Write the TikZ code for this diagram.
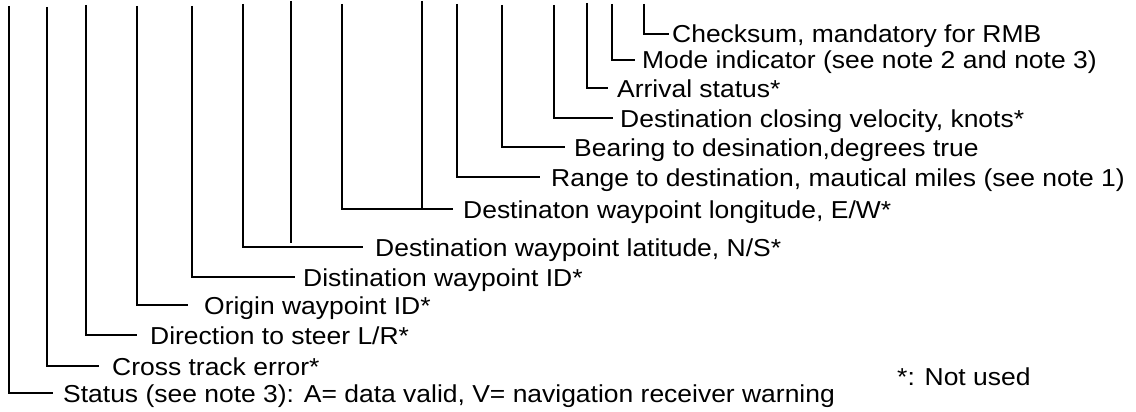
\documentclass[tikz,border=0pt]{standalone}
\usepackage{fontspec}
\setmainfont[FakeStretch=1.08]{Liberation Sans}
\begin{document}
\begin{tikzpicture}[x=1pt,y=-1pt,
  lbl/.style={anchor=west,inner xsep=0pt,inner ysep=0pt,text height=18pt,text depth=0pt,
     font=\fontsize{24.5}{29}\selectfont},
  wire/.style={line width=1.2pt,black}]
\useasboundingbox (0,0) rectangle (1136,412);
% top ends of the vertical lines
\coordinate (t1) at (644,4);
\coordinate (t2) at (612,4);
\coordinate (t3) at (587,3);
\coordinate (t4) at (554,5);
\coordinate (t5) at (502,5);
\coordinate (t6) at (457,4);
\coordinate (t7b) at (422,1);
\coordinate (t7a) at (342,4);
\coordinate (t8b) at (291,1);
\coordinate (t8a) at (243,4);
\coordinate (t9) at (192,6);
\coordinate (t10) at (137,6);
\coordinate (t11) at (86,5);
\coordinate (t12) at (47,7);
\coordinate (t13) at (9,6);
% labels (west anchor at the height of the leader line)
\node[lbl] (l1) at (672,34) {Checksum, mandatory for RMB};
\node[lbl] (l2) at (642,60) {Mode indicator (see note 2 and note 3)};
\node[lbl] (l3) at (617,88) {Arrival status*};
\node[lbl] (l4) at (620,118) {Destination closing velocity, knots*};
\node[lbl] (l5) at (574,147) {Bearing to desination,degrees true};
\node[lbl] (l6) at (551,177) {Range to destination, mautical miles (see note 1)};
\node[lbl] (l7) at (463,209) {Destinaton waypoint longitude, E/W*};
\node[lbl] (l8) at (375,247) {Destination waypoint latitude, N/S*};
\node[lbl] (l9) at (303,277) {Distination waypoint ID*};
\node[lbl] (l10) at (204,305) {Origin waypoint ID*};
\node[lbl] (l11) at (150,335) {Direction to steer L/R*};
\node[lbl] (l12) at (112,366) {Cross track error*};
\node[lbl] (l13) at (63,393) {Status (see note 3): A= data valid, V= navigation receiver warning};
\node[lbl] (note) at (897,376) {*: Not used};
% leaders
\draw[wire] (t1) |- ([xshift=-3pt]l1.west);
\draw[wire] (t2) |- ([xshift=-7pt]l2.west);
\draw[wire] (t3) |- ([xshift=-9pt]l3.west);
\draw[wire] (t4) |- ([xshift=-7pt]l4.west);
\draw[wire] (t5) |- ([xshift=-9pt]l5.west);
\draw[wire] (t6) |- ([xshift=-11pt]l6.west);
\draw[wire] (t7a) |- ([xshift=-10pt]l7.west);
\draw[wire] (t7b) -- (t7b |- l7.west);
\draw[wire] (t8a) |- ([xshift=-12pt]l8.west);
\draw[wire] (t8b) -- ([yshift=4pt]t8b |- l8.west);
\draw[wire] (t9) |- ([xshift=-8pt]l9.west);
\draw[wire] (t10) |- ([xshift=-16pt]l10.west);
\draw[wire] (t11) |- ([xshift=-13pt]l11.west);
\draw[wire] (t12) |- ([xshift=-13pt]l12.west);
\draw[wire] (t13) |- ([xshift=-10pt]l13.west);
\end{tikzpicture}
\end{document}
